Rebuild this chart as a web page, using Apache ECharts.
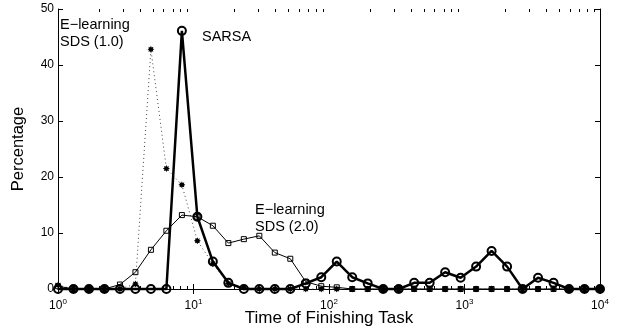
<!DOCTYPE html>
<html><head><meta charset="utf-8">
<script src="https://cdn.jsdelivr.net/npm/echarts@6/dist/echarts.min.js"></script>
<style>html,body{margin:0;padding:0;background:#fff}#c{width:621px;height:334px}</style>
</head><body><div id="c"></div>
<script>
// Time of finishing task (log-spaced bins, 10^0 .. 10^4)
const times = [1, 1.3010, 1.6927, 2.2022, 2.8651, 3.7276, 4.8497, 6.3096, 8.2090, 10.680,
  13.895, 18.078, 23.520, 30.600, 39.811, 51.795, 67.387, 87.672, 114.06, 148.40,
  193.07, 251.19, 326.80, 425.18, 553.18, 719.69, 936.33, 1218.2, 1584.9, 2062.0,
  2682.7, 3490.3, 4541.0, 5907.9, 7686.2, 10000];
// Percentage values
const sarsa = [0, 0, 0, 0, 0, 0, 0, 0, 46.1, 12.9, 4.9, 1.1, 0, 0, 0, 0, 1.0, 2.1, 4.9, 2.1,
  1.0, 0, 0, 1.1, 1.1, 3.0, 2.0, 4.0, 6.8, 4.0, 0, 2.0, 1.1, 0, 0, 0];
const sds10 = [0.7, 0, 0, 0, 0, 0.9, 42.8, 21.5, 18.6, 8.6, 4.5, 1.0, 0.3, 0, 0, 0, 0, 0, 0, 0,
  0, 0, 0, 0, 0, 0, 0, 0, 0, 0, 0, 0, 0, 0, 0, 0];
const sds20 = [0.5, 0, 0, 0, 0.8, 3.0, 7.0, 10.4, 13.2, 12.9, 11.3, 8.2, 8.9, 9.5, 6.5, 5.4, 1.3, 0.5, 0.3, 0,
  0, 0, 0, 0, 0, 0, 0, 0, 0, 0, 0, 0, 0, 0, 0, 0];
const yTicks = [0, 10, 20, 30, 40, 50];
const minorMultipliers = [2, 3, 4, 5, 6, 7, 8, 9];
const decades = [1, 10, 100, 1000];

const FONT = "'Liberation Sans', Arial, Helvetica, sans-serif";
const minorTicks = [];
decades.forEach(d => minorMultipliers.forEach(m => minorTicks.push(m * d)));

function zip(ys) { return times.map((t, i) => [t, ys[i]]); }
function starPath(n, r1, r2) {
  let d = '';
  for (let i = 0; i < 2 * n; i++) {
    const r = i % 2 ? r2 : r1;
    const a = Math.PI * i / n - Math.PI / 2;
    d += (i ? 'L' : 'M') + (50 + r * Math.cos(a)).toFixed(2) + ',' + (50 + r * Math.sin(a)).toFixed(2);
  }
  return 'path://' + d + 'Z';
}
const starSym = starPath(8, 50, 30);

const axLine = { show: true, lineStyle: { color: '#000', width: 1 } };
const chart = echarts.init(document.getElementById('c'), null, { renderer: 'canvas' });
chart.setOption({
  animation: false,
  backgroundColor: '#fff',
  textStyle: { fontFamily: FONT },
  grid: { left: 58, right: 21, top: 9, bottom: 45, containLabel: false, outerBoundsMode: 'none' },
  xAxis: [
    { type: 'log', logBase: 10, min: 1, max: 10000, position: 'bottom',
      axisLine: axLine, splitLine: { show: false },
      axisTick: { inside: true, length: 5, lineStyle: { color: '#000' } },
      axisLabel: { margin: 9, color: '#000', fontFamily: FONT,
        formatter: v => '{b|10}{s|' + Math.round(Math.log10(v)) + '}',
        rich: { b: { fontSize: 12, fontFamily: FONT, color: '#000' },
                s: { fontSize: 8, fontFamily: FONT, color: '#000', padding: [0, 0, 8, 0] } } },
      name: 'Time of Finishing Task', nameLocation: 'middle', nameGap: 21, nameMoveOverlap: false,
      nameTextStyle: { fontSize: 17, color: '#000', fontFamily: FONT } },
    { type: 'log', logBase: 10, min: 1, max: 10000, position: 'top',
      axisLine: axLine, splitLine: { show: false }, axisLabel: { show: false },
      axisTick: { inside: true, length: 5, lineStyle: { color: '#000' } } }
  ],
  yAxis: [
    { type: 'value', min: 0, max: 50, interval: 10, position: 'left',
      axisLine: axLine, splitLine: { show: false },
      axisTick: { inside: true, length: 5, lineStyle: { color: '#000' } },
      axisLabel: { margin: 4, fontSize: 12, color: '#000', fontFamily: FONT },
      name: 'Percentage', nameLocation: 'middle', nameGap: 31, nameMoveOverlap: false,
      nameTextStyle: { fontSize: 16.5, color: '#000', fontFamily: FONT } },
    { type: 'value', min: 0, max: 50, interval: 10, position: 'right',
      axisLine: axLine, splitLine: { show: false }, axisLabel: { show: false },
      axisTick: { inside: true, length: 5, lineStyle: { color: '#000' } } }
  ],
  series: [
    { name: 'minor ticks', type: 'custom', xAxisIndex: 0, yAxisIndex: 0, silent: true, clip: false, z: 1,
      data: minorTicks,
      renderItem: (params, api) => {
        const b = api.coord([api.value(0), 0]);
        const t = api.coord([api.value(0), 50]);
        const st = { stroke: '#000', lineWidth: 1 };
        return { type: 'group', children: [
          { type: 'line', shape: { x1: Math.round(b[0]) + 0.5, y1: b[1], x2: Math.round(b[0]) + 0.5, y2: b[1] - 3 }, style: st },
          { type: 'line', shape: { x1: Math.round(t[0]) + 0.5, y1: t[1], x2: Math.round(t[0]) + 0.5, y2: t[1] + 3 }, style: st }
        ] };
      } },
    { name: 'E-learning SDS (1.0)', type: 'line', data: zip(sds10), clip: false,
      symbol: starSym, symbolSize: 7, z: 2,
      itemStyle: { color: '#000' },
      lineStyle: { color: '#444', width: 1, type: [1, 3] } },
    { name: 'E-learning SDS (2.0)', type: 'line', data: zip(sds20), clip: false,
      symbol: 'rect', symbolSize: 5, z: 3,
      itemStyle: { color: 'transparent', borderColor: '#000', borderWidth: 1 },
      lineStyle: { color: '#000', width: 1 } },
    { name: 'SARSA', type: 'line', data: zip(sarsa), clip: false,
      symbol: 'circle', symbolSize: 8, z: 4,
      itemStyle: { color: 'transparent', borderColor: '#000', borderWidth: 2 },
      lineStyle: { color: '#000', width: 2.5 } }
  ],
  graphic: [
    { type: 'text', left: 60, top: 17, style: { text: 'E\u2212learning\nSDS (1.0)', font: '14.5px ' + FONT, fill: '#000', lineHeight: 16.5 } },
    { type: 'text', left: 202, top: 29, style: { text: 'SARSA', font: '14.5px ' + FONT, fill: '#000' } },
    { type: 'text', left: 255, top: 201, style: { text: 'E\u2212learning\nSDS (2.0)', font: '14.5px ' + FONT, fill: '#000', lineHeight: 17 } }
  ]
});
</script></body></html>
